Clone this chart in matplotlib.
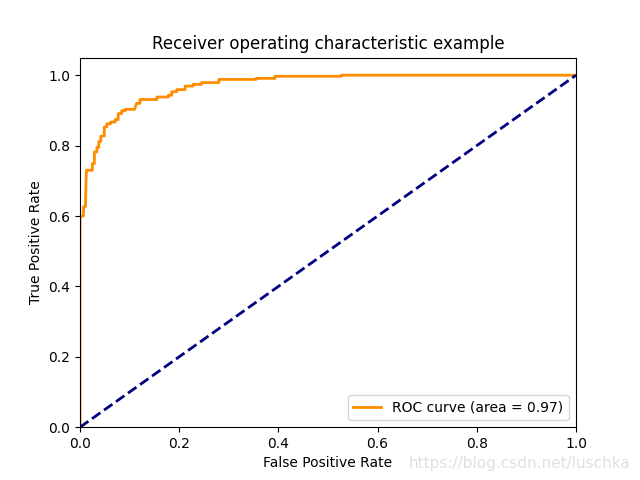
import matplotlib
matplotlib.use("Agg")
import matplotlib.pyplot as plt

# ROC points (corner points of the step curve)
fpr = [0.0, 0.0, 0.002, 0.007, 0.007, 0.011, 0.012, 0.013, 0.025, 0.025, 0.029, 0.029,
       0.034, 0.034, 0.038, 0.038, 0.042, 0.042, 0.049, 0.049, 0.054, 0.054, 0.062, 0.062,
       0.071, 0.071, 0.077, 0.077, 0.084, 0.084, 0.091, 0.091, 0.110, 0.114, 0.121, 0.121,
       0.155, 0.155, 0.178, 0.178, 0.185, 0.185, 0.195, 0.195, 0.212, 0.212, 0.228, 0.228,
       0.245, 0.245, 0.28, 0.28, 0.355, 0.355, 0.393, 0.393, 0.527, 0.527, 1.0]
tpr = [0.0, 0.59, 0.6, 0.6, 0.626, 0.626, 0.692, 0.73, 0.73, 0.749, 0.749, 0.782,
       0.782, 0.795, 0.795, 0.812, 0.812, 0.827, 0.827, 0.853, 0.853, 0.862, 0.862, 0.867,
       0.867, 0.874, 0.874, 0.891, 0.891, 0.899, 0.899, 0.903, 0.903, 0.92, 0.92, 0.931,
       0.931, 0.938, 0.938, 0.943, 0.943, 0.953, 0.953, 0.959, 0.959, 0.969, 0.969, 0.974,
       0.974, 0.979, 0.979, 0.988, 0.988, 0.991, 0.991, 0.997, 0.997, 1.0, 1.0]
roc_auc = 0.97

plt.figure(figsize=(6.4, 4.8), dpi=100)
plt.plot(fpr, tpr, color="darkorange", lw=2, label="ROC curve (area = %0.2f)" % roc_auc)
plt.plot([0, 1], [0, 1], color="navy", lw=2, linestyle="--")
plt.xlim([0.0, 1.0])
plt.ylim([0.0, 1.05])
plt.xlabel("False Positive Rate")
plt.ylabel("True Positive Rate")
plt.title("Receiver operating characteristic example")
plt.legend(loc="lower right")
# watermark
plt.gcf().text(0.985, 0.035, "https://blog.csdn.net/luschka", color="#e0e0e0",
               fontsize=11, ha="right", va="center")
plt.savefig("out.png")
